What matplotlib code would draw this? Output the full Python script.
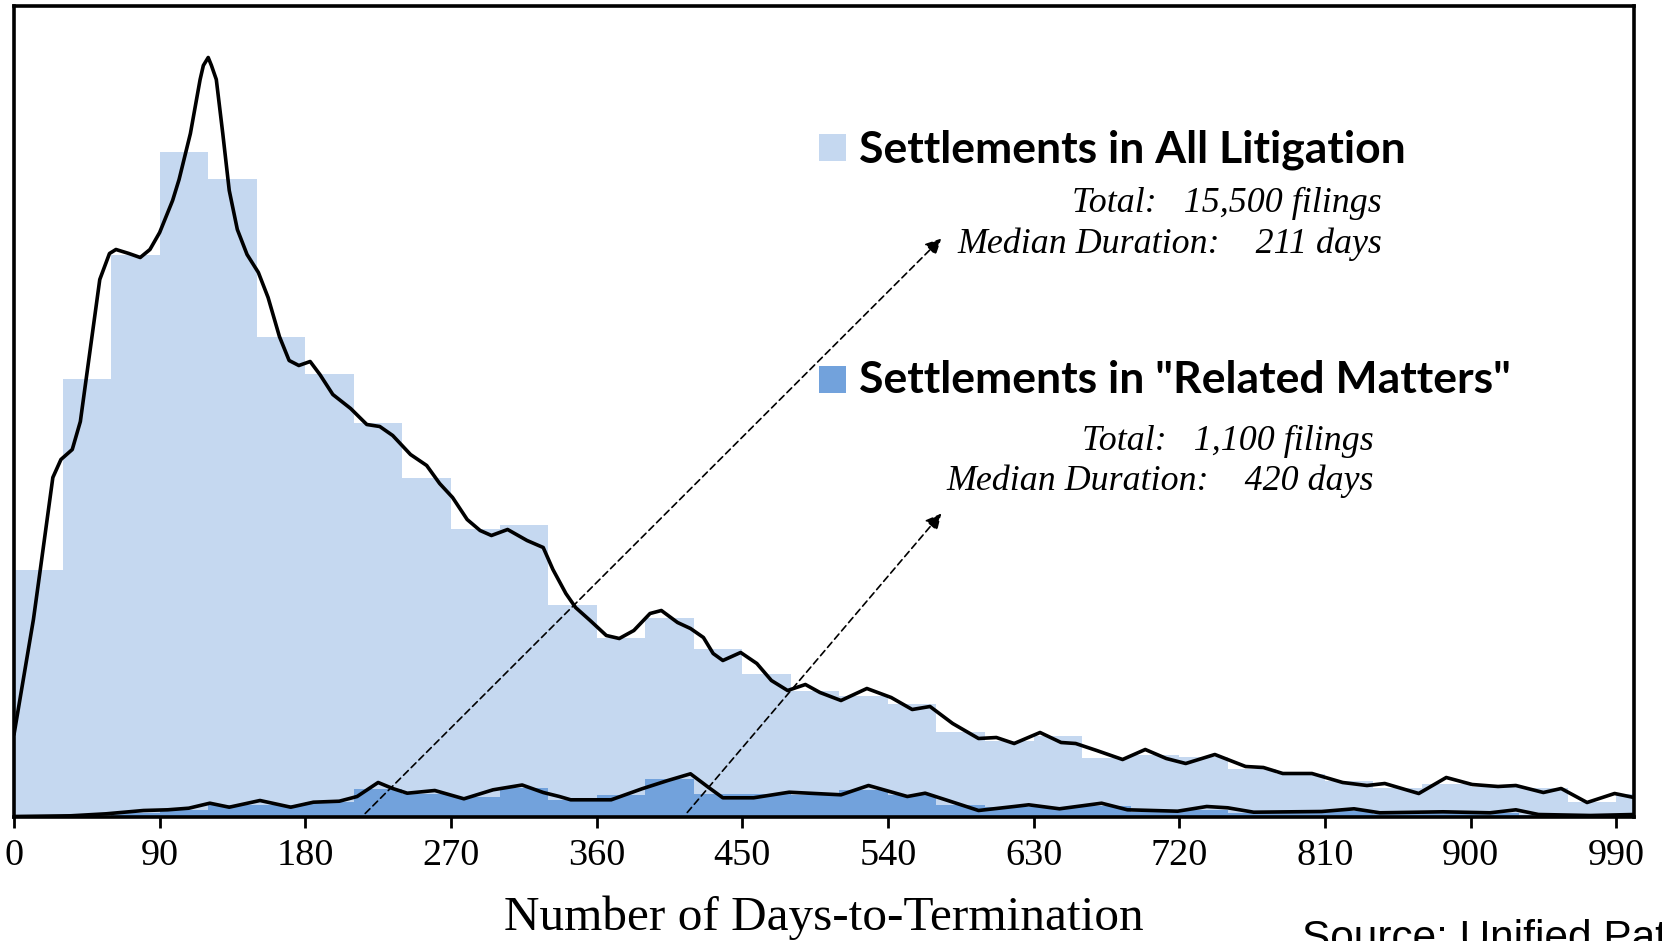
import numpy as np
import matplotlib
matplotlib.use("Agg")
import matplotlib.pyplot as plt
from matplotlib.patches import Rectangle

# histogram bins (30-day buckets), heights
bin_left = [0, 30, 60, 90, 120, 150, 180, 210, 240, 270, 300, 330, 360, 390, 420, 450, 480,
            510, 540, 570, 600, 630, 660, 690, 720, 750, 780, 810, 840, 870, 900, 930, 960, 990]
all_hist = [247, 438, 562, 665, 638, 480, 443, 394, 339, 288, 292, 212, 179, 199, 168, 143, 126,
            121, 113, 85, 76, 81, 59, 62, 60, 48, 43, 36, 29, 33, 30, 29, 15, 23]
related_hist = [0, 1, 4, 7, 12, 12, 15, 28, 23, 20, 29, 17, 22, 38, 23, 23, 22,
                27, 22, 12, 10, 10, 11, 5, 7, 4, 4, 6, 3, 4, 4, 2, 1, 1]

# smoothed density lines (same scale as bars)
all_kde_days = [0, 12, 16, 24, 29, 36, 41, 47, 53, 59, 63, 71, 78, 84, 90, 98, 102, 109, 115,
                117, 120, 122, 125, 129, 133, 138, 144, 151, 157, 164, 170, 176, 183, 189, 197,
                208, 218, 226, 234, 245, 255, 263, 271, 280, 288, 295, 305, 317, 327, 333, 341,
                347, 356, 366, 374, 383, 393, 400, 410, 418, 426, 432, 438, 449, 459, 468, 478,
                489, 498, 511, 527, 542, 555, 566, 580, 596, 607, 618, 634, 647, 656, 669, 685,
                699, 712, 724, 742, 761, 772, 784, 802, 821, 836, 847, 868, 885, 901, 917, 928,
                945, 956, 972, 989, 1001]
all_kde_vals = [82, 197, 244, 339, 357, 367, 395, 466, 537, 563, 567, 563, 559, 567, 584, 616, 637,
                683, 737, 751, 759, 751, 737, 683, 626, 587, 562, 544, 519, 480, 456, 451, 455,
                442, 422, 408, 392, 390, 381, 362, 351, 333, 319, 297, 286, 281, 287, 276, 269,
                247, 223, 209, 196, 181, 178, 186, 203, 206, 194, 188, 179, 163, 156, 164, 153,
                136, 126, 132, 124, 116, 128, 119, 107, 110, 93, 78, 79, 73, 84, 74, 73, 66, 57,
                67, 58, 53, 62, 50, 49, 43, 43, 34, 31, 33, 23, 39, 32, 30, 31, 24, 28, 14, 23, 19]

related_kde_days = [0, 35, 57, 80, 95, 108, 121, 133, 152, 171, 185, 201, 212, 225, 234, 243,
                    260, 278, 296, 314, 327, 337, 344, 369, 388, 404, 418, 429, 438, 457, 479,
                    511, 528, 552, 563, 577, 596, 618, 627, 646, 672, 688, 719, 737, 750, 766,
                    808, 828, 844, 883, 912, 928, 942, 974, 1001]
related_kde_vals = [0, 0.7, 2.7, 6, 6.7, 8.3, 13.3, 9.3, 16, 9.3, 14.3, 15.3, 20, 34, 28, 23.3,
                    26, 17.7, 26.7, 31.5, 24, 20, 16.7, 16.7, 27.7, 36, 42.7, 29.3, 18.7, 18.7,
                    24.3, 21.7, 31, 20, 23.3, 16, 6, 10, 11.7, 7.7, 13.3, 6.7, 5.3, 10, 8.7, 4.3,
                    5, 7.7, 3.7, 4.7, 3.7, 6.7, 2, 1, 2]

tick_days = [0, 90, 180, 270, 360, 450, 540, 630, 720, 810, 900, 990]

light_blue = "#C5D8F0"
mid_blue = "#72A2DC"

W, H = 1662, 941
fig = plt.figure(figsize=(W / 100, H / 100), dpi=100)
ax = fig.add_axes([14 / W, 1 - 816.5 / H, (1634 - 14) / W, (816.5 - 6) / H])

ax.bar(bin_left, all_hist, width=30, align="edge", color=light_blue, linewidth=0, zorder=1)
ax.bar(bin_left, related_hist, width=30, align="edge", color=mid_blue, linewidth=0, zorder=2)

ax.plot(all_kde_days, all_kde_vals, color="black", lw=2.6, solid_joinstyle="round",
        solid_capstyle="round", zorder=3)
ax.plot(related_kde_days, related_kde_vals, color="black", lw=2.6, solid_joinstyle="round",
        solid_capstyle="round", zorder=3)

# dashed arrows pointing to the two text blocks
for start, end in [((217, 3), (573, 578)), ((416, 4), (573, 303))]:
    ax.annotate("", xy=end, xytext=start,
                arrowprops=dict(arrowstyle="-|>", color="black", lw=1.2,
                                linestyle=(0, (4, 2.5)), mutation_scale=24,
                                shrinkA=0, shrinkB=0), zorder=4)

ax.set_xlim(0, 1001)
ax.set_ylim(0, 810.5)
ax.set_yticks([])
ax.set_xticks(tick_days)
ax.set_xticklabels([str(t) for t in tick_days], family="Liberation Serif", fontsize=27.5)
ax.tick_params(axis="x", direction="out", length=8, width=2, pad=8, colors="black")
for s in ax.spines.values():
    s.set_linewidth(2.6)
    s.set_color("black")

def fx(x):
    return x / W

def fy(y):
    return 1 - y / H

# legend-like blocks
fig.patches.append(Rectangle((fx(819), fy(161)), 27 / W, 27 / H, transform=fig.transFigure,
                             facecolor=light_blue, edgecolor="none"))
fig.patches.append(Rectangle((fx(819), fy(393)), 27 / W, 27 / H, transform=fig.transFigure,
                             facecolor=mid_blue, edgecolor="none"))

fig.text(fx(859), fy(162), "Settlements in All Litigation", family="Lato", weight="bold",
         fontsize=32, va="baseline", ha="left")
fig.text(fx(859), fy(393), 'Settlements in "Related Matters"', family="Lato", weight="bold",
         fontsize=32, va="baseline", ha="left")

sub = dict(family="Liberation Serif", style="italic", fontsize=25.8, va="baseline", ha="right")
fig.text(fx(1382), fy(212), "Total:   15,500 filings", **sub)
fig.text(fx(1382), fy(253), "Median Duration:    211 days", **sub)
fig.text(fx(1374), fy(450), "Total:   1,100 filings", **sub)
fig.text(fx(1374), fy(490), "Median Duration:    420 days", **sub)

fig.text(fx(824), fy(930), "Number of Days-to-Termination", family="Liberation Serif",
         fontsize=35.5, ha="center", va="baseline")
# source line runs off the bottom/right edge, as in the original
fig.text(fx(1302), fy(950), "Source: Unified Patents", family="Liberation Sans",
         fontsize=30.5, ha="left", va="baseline")

fig.savefig("out.png", dpi=100)
